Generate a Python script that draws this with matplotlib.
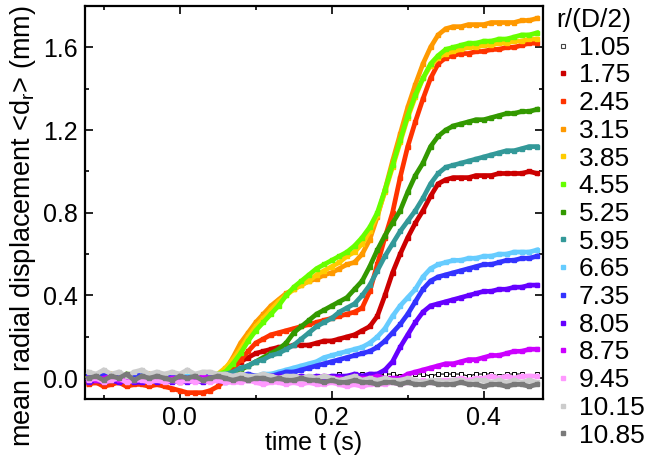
import numpy as np
import matplotlib
matplotlib.use("Agg")
import matplotlib.pyplot as plt
from matplotlib.lines import Line2D
from matplotlib.ticker import MultipleLocator, FormatStrFormatter

plt.rcParams['font.family'] = ['Liberation Sans', 'DejaVu Sans']
plt.rcParams['mathtext.fontset'] = 'custom'
plt.rcParams['mathtext.rm'] = 'Liberation Sans'

# time samples (s): -0.12 ... 0.47 every 0.01 s
time_s = np.round(np.arange(-0.12, 0.4701, 0.01), 2)

radii = ["1.05", "1.75", "2.45", "3.15", "3.85", "4.55", "5.25", "5.95",
         "6.65", "7.35", "8.05", "8.75", "9.45", "10.15", "10.85"]
colors = ["black", "#CC0000", "#FF3300", "#FF9900", "#FFCC00", "#66FF00",
          "#339900", "#339999", "#66CCFF", "#3333FF", "#6600FF", "#CC00FF",
          "#FF99FF", "#CCCCCC", "#7A7A7A"]

d_105 = [0.00, 0.01, 0.00, 0.01, 0.00, 0.00, 0.01, 0.00, 0.01, 0.00,
         0.01, 0.00, 0.00, 0.01, 0.00, 0.01, 0.00, 0.00, 0.01, 0.00,
         0.01, 0.00, 0.01, 0.01, 0.00, 0.01, 0.01, 0.01, 0.00, 0.01,
         0.01, 0.01, 0.01, 0.02, 0.01, 0.01, 0.02, 0.01, 0.01, 0.02,
         0.02, 0.01, 0.02, 0.02, 0.02, 0.01, 0.02, 0.02, 0.02, 0.02,
         0.01, 0.02, 0.02, 0.02, 0.01, 0.02, 0.02, 0.02, 0.01, 0.02]
d_175 = [-0.01, -0.02, 0.00, -0.01, -0.02, -0.01, 0.00, -0.02, -0.01, -0.01,
         -0.02, -0.01, -0.02, -0.01, -0.01, 0.00, -0.01, 0.00, 0.02, 0.05,
         0.08, 0.10, 0.12, 0.13, 0.14, 0.15, 0.15, 0.16, 0.16, 0.16,
         0.17, 0.18, 0.18, 0.19, 0.20, 0.21, 0.23, 0.25, 0.30, 0.40,
         0.51, 0.60, 0.68, 0.75, 0.81, 0.88, 0.94, 0.96, 0.97, 0.97,
         0.97, 0.98, 0.98, 0.98, 0.99, 0.99, 0.99, 0.99, 1.00, 0.99]
d_245 = [-0.03, -0.02, -0.04, -0.03, -0.02, -0.04, -0.03, -0.03, -0.04, -0.03,
         -0.04, -0.05, -0.06, -0.07, -0.07, -0.07, -0.06, -0.04, -0.01, 0.04,
         0.09, 0.13, 0.17, 0.19, 0.21, 0.22, 0.23, 0.24, 0.25, 0.26,
         0.27, 0.28, 0.29, 0.30, 0.31, 0.32, 0.34, 0.42, 0.55, 0.68,
         0.80, 0.97, 1.12, 1.24, 1.35, 1.45, 1.52, 1.55, 1.56, 1.57,
         1.57, 1.58, 1.58, 1.59, 1.59, 1.60, 1.60, 1.61, 1.62, 1.62]
d_315 = [0.01, -0.01, 0.02, 0.00, 0.01, -0.02, 0.01, 0.00, 0.02, -0.01,
         0.00, 0.01, -0.01, 0.00, 0.01, 0.00, 0.01, 0.01, 0.04, 0.10,
         0.17, 0.22, 0.27, 0.31, 0.35, 0.38, 0.41, 0.43, 0.45, 0.47,
         0.48, 0.50, 0.51, 0.53, 0.55, 0.56, 0.60, 0.67, 0.78, 0.91,
         1.05, 1.18, 1.31, 1.42, 1.52, 1.60, 1.66, 1.69, 1.70, 1.70,
         1.71, 1.71, 1.71, 1.72, 1.72, 1.72, 1.72, 1.73, 1.73, 1.74]
d_385 = [0.00, 0.01, -0.01, 0.02, 0.00, 0.01, -0.01, 0.00, 0.01, 0.00,
         0.01, 0.00, 0.00, 0.01, 0.00, 0.01, 0.01, 0.02, 0.05, 0.09,
         0.14, 0.20, 0.25, 0.29, 0.33, 0.37, 0.40, 0.43, 0.45, 0.47,
         0.50, 0.52, 0.54, 0.56, 0.59, 0.61, 0.65, 0.71, 0.79, 0.90,
         1.02, 1.14, 1.26, 1.36, 1.45, 1.51, 1.55, 1.57, 1.58, 1.59,
         1.60, 1.60, 1.61, 1.61, 1.62, 1.62, 1.63, 1.63, 1.64, 1.64]
d_455 = [0.01, 0.00, 0.01, -0.01, 0.00, 0.02, 0.00, -0.01, 0.01, 0.00,
         0.00, 0.01, 0.00, 0.00, 0.01, 0.00, 0.01, 0.02, 0.03, 0.07,
         0.12, 0.18, 0.23, 0.27, 0.31, 0.35, 0.40, 0.44, 0.47, 0.50,
         0.53, 0.55, 0.57, 0.59, 0.61, 0.64, 0.68, 0.73, 0.80, 0.91,
         1.03, 1.15, 1.27, 1.37, 1.45, 1.52, 1.56, 1.59, 1.60, 1.61,
         1.62, 1.62, 1.63, 1.63, 1.64, 1.64, 1.65, 1.66, 1.66, 1.67]
d_525 = [0.00, 0.01, -0.01, 0.00, 0.01, 0.00, -0.01, 0.01, 0.00, 0.00,
         0.01, 0.00, -0.01, 0.00, 0.01, 0.00, 0.00, 0.01, 0.01, 0.02,
         0.04, 0.06, 0.08, 0.10, 0.12, 0.14, 0.17, 0.22, 0.25, 0.28,
         0.31, 0.33, 0.35, 0.37, 0.39, 0.43, 0.47, 0.54, 0.62, 0.69,
         0.75, 0.81, 0.90, 0.98, 1.04, 1.12, 1.17, 1.20, 1.22, 1.23,
         1.24, 1.25, 1.25, 1.26, 1.27, 1.28, 1.28, 1.29, 1.29, 1.30]
d_595 = [-0.01, 0.00, 0.01, 0.00, -0.01, 0.00, 0.01, 0.00, -0.01, 0.01,
         0.00, 0.00, 0.01, -0.01, 0.00, 0.01, 0.00, 0.01, 0.02, 0.03,
         0.05, 0.06, 0.08, 0.09, 0.11, 0.12, 0.14, 0.16, 0.19, 0.22,
         0.25, 0.27, 0.29, 0.32, 0.34, 0.36, 0.40, 0.45, 0.52, 0.59,
         0.65, 0.71, 0.76, 0.81, 0.87, 0.94, 0.99, 1.02, 1.03, 1.04,
         1.05, 1.06, 1.07, 1.08, 1.09, 1.10, 1.10, 1.11, 1.12, 1.12]
d_665 = [0.01, 0.00, 0.02, 0.01, 0.00, 0.01, -0.01, 0.01, 0.00, 0.01,
         0.00, 0.01, 0.00, 0.01, 0.00, 0.01, 0.00, 0.01, 0.01, 0.00,
         0.01, 0.01, 0.01, 0.02, 0.02, 0.03, 0.04, 0.05, 0.06, 0.07,
         0.08, 0.10, 0.11, 0.12, 0.13, 0.14, 0.15, 0.17, 0.20, 0.24,
         0.30, 0.35, 0.39, 0.43, 0.49, 0.53, 0.55, 0.56, 0.57, 0.57,
         0.58, 0.58, 0.59, 0.59, 0.60, 0.60, 0.61, 0.61, 0.61, 0.62]
d_735 = [0.02, 0.01, 0.02, 0.00, 0.02, 0.01, 0.02, 0.01, 0.00, 0.02,
         0.01, 0.02, 0.01, 0.00, 0.01, 0.02, 0.01, 0.00, 0.01, 0.01,
         0.01, 0.02, 0.01, 0.01, 0.01, 0.02, 0.03, 0.03, 0.04, 0.05,
         0.06, 0.07, 0.08, 0.09, 0.10, 0.11, 0.12, 0.13, 0.15, 0.18,
         0.22, 0.26, 0.31, 0.37, 0.43, 0.47, 0.49, 0.50, 0.51, 0.52,
         0.53, 0.54, 0.55, 0.55, 0.56, 0.57, 0.57, 0.58, 0.58, 0.59]
d_805 = [-0.02, -0.01, -0.02, -0.01, -0.02, -0.01, -0.02, -0.02, -0.01, -0.02,
         -0.01, -0.02, -0.01, -0.02, -0.01, -0.02, -0.01, -0.01, -0.02, -0.01,
         -0.01, 0.00, -0.01, 0.00, 0.00, 0.01, 0.00, 0.00, 0.01, 0.00,
         0.01, 0.00, 0.01, 0.01, 0.01, 0.02, 0.01, 0.02, 0.02, 0.04,
         0.08, 0.15, 0.21, 0.27, 0.32, 0.35, 0.36, 0.37, 0.38, 0.39,
         0.40, 0.41, 0.42, 0.42, 0.43, 0.43, 0.44, 0.44, 0.45, 0.45]
d_875 = [0.00, -0.01, 0.00, 0.01, -0.01, 0.00, -0.01, 0.00, 0.01, 0.00,
         -0.01, 0.00, 0.00, -0.01, 0.00, 0.01, 0.00, -0.01, 0.00, 0.00,
         0.00, -0.01, 0.00, 0.00, 0.01, 0.00, -0.01, 0.00, 0.00, 0.00,
         0.00, 0.01, 0.00, 0.00, -0.01, 0.00, 0.00, 0.00, 0.01, 0.00,
         0.00, 0.00, 0.02, 0.03, 0.04, 0.05, 0.06, 0.07, 0.07, 0.08,
         0.09, 0.09, 0.10, 0.11, 0.11, 0.12, 0.13, 0.13, 0.14, 0.14]
d_945 = [-0.01, 0.00, -0.02, -0.01, 0.00, -0.02, -0.01, -0.01, -0.02, -0.01,
         -0.02, -0.01, -0.02, -0.01, -0.02, -0.01, -0.02, -0.01, -0.02, -0.02,
         -0.02, -0.01, -0.02, -0.03, -0.02, -0.02, -0.03, -0.02, -0.03, -0.02,
         -0.03, -0.03, -0.02, -0.03, -0.04, -0.03, -0.04, -0.03, -0.03, -0.03,
         -0.02, -0.03, -0.02, -0.02, -0.01, -0.02, -0.01, -0.01, -0.01, 0.00,
         -0.01, 0.00, 0.00, 0.01, 0.00, 0.01, 0.00, 0.01, 0.01, 0.01]
d_1015 = [0.03, 0.02, 0.04, 0.02, 0.03, 0.01, 0.03, 0.04, 0.02, 0.03,
          0.02, 0.03, 0.02, 0.04, 0.02, 0.03, 0.03, 0.02, 0.02, 0.01,
          0.02, 0.01, 0.01, 0.02, 0.01, 0.00, 0.01, 0.01, 0.00, 0.01,
          0.00, 0.01, 0.00, -0.01, 0.00, 0.01, -0.01, 0.00, -0.01, 0.00,
          -0.01, -0.01, 0.00, -0.01, -0.02, -0.01, -0.01, -0.02, -0.01, -0.01,
          -0.02, -0.01, -0.01, -0.02, -0.01, -0.02, -0.01, -0.02, -0.01, -0.02]
d_1085 = [0.00, 0.01, -0.01, 0.01, 0.00, 0.02, -0.01, 0.01, 0.00, 0.01,
          0.00, -0.01, 0.01, 0.00, 0.01, -0.01, 0.00, 0.01, 0.00, -0.01,
          0.00, -0.01, 0.00, 0.00, -0.01, 0.00, -0.01, -0.01, 0.00, -0.01,
          -0.01, -0.02, -0.01, -0.02, -0.02, -0.01, -0.02, -0.02, -0.03, -0.02,
          -0.02, -0.03, -0.02, -0.03, -0.03, -0.02, -0.03, -0.03, -0.03, -0.02,
          -0.03, -0.03, -0.04, -0.03, -0.03, -0.04, -0.03, -0.03, -0.04, -0.03]

series = [d_105, d_175, d_245, d_315, d_385, d_455, d_525, d_595,
          d_665, d_735, d_805, d_875, d_945, d_1015, d_1085]

fig = plt.figure(figsize=(6.57, 4.59), dpi=100)
ax = fig.add_axes([0.129, 0.131, 0.697, 0.856])

handles = []
for i, (lab, col, vals) in enumerate(zip(radii, colors, series)):
    if lab == "1.05":
        ax.plot(time_s, vals, ls='-', lw=0.8, color='black', marker='s', ms=3,
                mfc='white', mec='black', mew=0.7, zorder=3 + i)
        handles.append(Line2D([], [], ls='none', marker='s', ms=3.2,
                              mfc='white', mec='#444444', mew=0.8, label=lab))
    else:
        ax.plot(time_s, vals, ls='-', lw=3.4, color=col, marker='s', ms=3.4,
                mec=col, mfc=col, zorder=3 + i, solid_joinstyle='miter')
        handles.append(Line2D([], [], ls='none', marker='s', ms=3.5,
                              mfc=col, mec=col, label=lab))

ax.set_xlim(-0.125, 0.4776)
ax.set_ylim(-0.10, 1.80)
ax.xaxis.set_major_locator(MultipleLocator(0.2))
ax.xaxis.set_minor_locator(MultipleLocator(0.1))
ax.yaxis.set_major_locator(MultipleLocator(0.4))
ax.yaxis.set_minor_locator(MultipleLocator(0.2))
ax.xaxis.set_major_formatter(FormatStrFormatter('%.1f'))
ax.yaxis.set_major_formatter(FormatStrFormatter('%.1f'))
ax.tick_params(which='both', direction='in', top=True, right=True,
               labelsize=18, width=1.2)
ax.tick_params(which='major', length=6, pad=5)
ax.tick_params(which='minor', length=3)
for sp in ax.spines.values():
    sp.set_linewidth(1.6)

ax.set_xlabel('time t (s)', fontsize=18, labelpad=1)
ax.set_ylabel(r'mean radial displacement <d$_\mathrm{r}$> (mm)', fontsize=19.5)
ax.yaxis.set_label_coords(-0.103, 0.44)

leg = ax.legend(handles=handles, title='r/(D/2)', loc='upper left',
                bbox_to_anchor=(1.019, 1.008), frameon=False, fontsize=19,
                title_fontsize=19, handlelength=0.5, handletextpad=0.33,
                labelspacing=0.14, borderaxespad=0.1, borderpad=0.1)
leg._legend_box.align = "left"

fig.savefig('out.png', dpi=100)
